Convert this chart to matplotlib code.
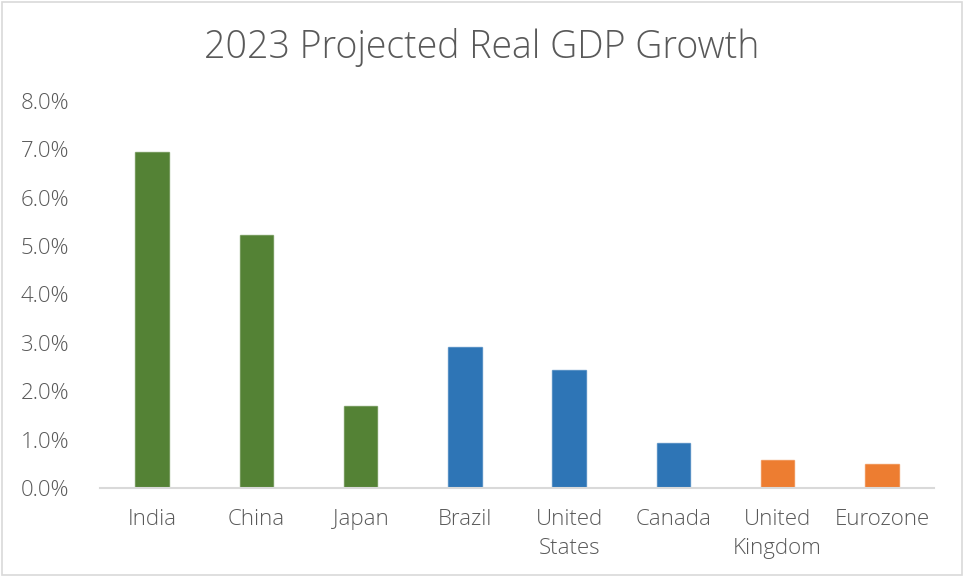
import matplotlib.pyplot as plt
from matplotlib.patches import Rectangle
from matplotlib.ticker import FuncFormatter

countries = ["India", "China", "Japan", "Brazil", "United\nStates", "Canada", "United\nKingdom", "Eurozone"]
growth = [6.95, 5.22, 1.69, 2.91, 2.44, 0.93, 0.58, 0.50]
bar_colors = ["#548235", "#548235", "#548235", "#2E75B6", "#2E75B6", "#2E75B6", "#ED7D31", "#ED7D31"]

plt.rcParams['font.family'] = ['Open Sans', 'DejaVu Sans']

fig = plt.figure(figsize=(9.64, 5.77), dpi=100)
fig.patches.append(Rectangle((0.002, 0.004), 0.996, 0.992, transform=fig.transFigure,
                             fill=False, edgecolor="#D9D9D9", linewidth=1.2))

ax = fig.add_axes([100/964, 1-488/577, 834/964, 387/577])
ax.bar(range(len(countries)), growth, width=0.32, color=bar_colors,
       edgecolor=[c + "99" for c in bar_colors], linewidth=1)
ax.set_xlim(-0.5, len(countries) - 0.5)
ax.set_ylim(0, 8)
ax.set_yticks([i for i in range(9)])
ax.yaxis.set_major_formatter(FuncFormatter(lambda v, p: "%.1f%%" % v))
ax.set_xticks(range(len(countries)))
ax.set_xticklabels(countries, linespacing=1.5)

for s in ["top", "right", "left"]:
    ax.spines[s].set_visible(False)
ax.spines["bottom"].set_color("#D9D9D9")
ax.spines["bottom"].set_linewidth(1.5)
ax.tick_params(axis="both", length=0, labelsize=16, colors="#595959")
ax.tick_params(axis="x", pad=15)
ax.tick_params(axis="y", pad=22)
for t in ax.get_xticklabels() + ax.get_yticklabels():
    t.set_fontweight("light")

fig.text(0.5, 0.918, "2023 Projected Real GDP Growth", ha="center", va="center",
         fontsize=27, color="#595959", fontweight="light")

fig.savefig("out.png", dpi=100)
